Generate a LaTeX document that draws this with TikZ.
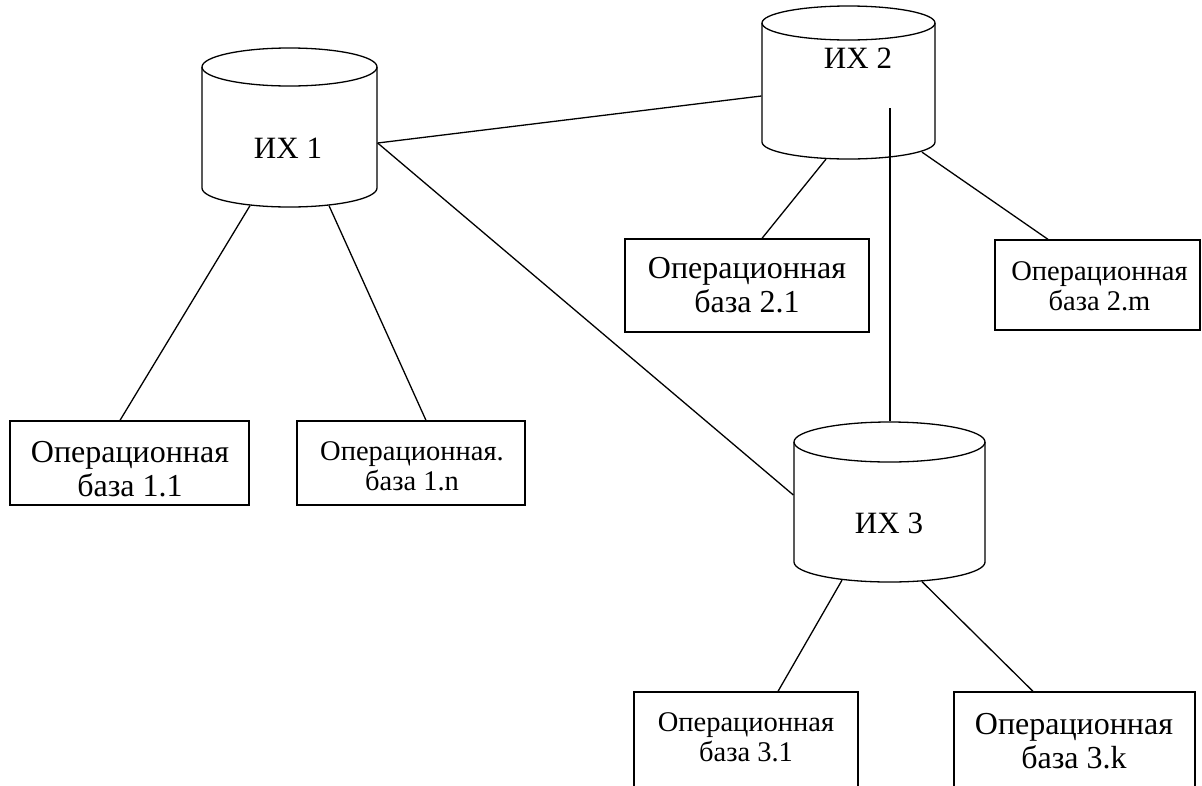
\documentclass[tikz,border=0pt]{standalone}
\usepackage{fontspec}
\setmainfont{Liberation Serif}

% Vertical database cylinder: #1 name, #2 left x, #3 right x,
% #4 y of the top ellipse centre, #5 y where the sides end, #6 ellipse half-height
\newcommand{\dbcyl}[6]{%
  \pgfmathsetmacro\cylcx{(#2+#3)/2}%
  \pgfmathsetmacro\cylrx{(#3-#2)/2}%
  \pgfmathsetmacro\cylcy{(#4+#5)/2}%
  \pgfmathsetmacro\cylh{#5-#4}%
  \node[inner sep=0pt, minimum width={2*\cylrx pt}, minimum height={\cylh pt}] (#1) at (\cylcx,\cylcy) {};
  \draw (#2,#4) -- (#2,#5) arc[start angle=180, end angle=0, x radius=\cylrx, y radius=#6] -- (#3,#4);
  \draw (\cylcx,#4) ellipse[x radius=\cylrx, y radius=#6];
}

\begin{document}
\begin{tikzpicture}[x=1pt, y=-1pt, line width=1.3pt,
  opbox/.style={draw, rectangle, inner sep=0pt, line width=1.3pt},
  bigtext/.style={align=center, inner sep=0pt, font=\fontsize{32}{34}\selectfont},
  smalltext/.style={align=center, inner sep=0pt, font=\fontsize{28.5}{30}\selectfont},
  cyltext/.style={inner sep=0pt, font=\fontsize{31}{33}\selectfont},
  link/.style={line width=1.3pt}]
\useasboundingbox (0,0) rectangle (1202,785);

% storages
\dbcyl{ix1}{202}{377}{67}{188}{19}
\dbcyl{ix2}{762}{935}{23}{142}{17}
\dbcyl{ix3}{794}{985}{442}{562}{20}
\node[cyltext] (tx1) at (288,148) {ИХ 1};
\node[cyltext] (tx2) at (858,58) {ИХ 2};
\node[cyltext] (tx3) at (889,523) {ИХ 3};

% operational databases (frames)
\node[opbox, minimum width=239pt, minimum height=84pt] (b11) at (129.5,463) {};
\node[opbox, minimum width=228pt, minimum height=84pt] (b1n) at (411,463) {};
\node[opbox, minimum width=244pt, minimum height=93pt] (b21) at (747,285.5) {};
\node[opbox, minimum width=205pt, minimum height=90pt] (b2m) at (1097.5,285) {};
\node[opbox, minimum width=224pt, minimum height=110pt] (b31) at (746,747) {};
\node[opbox, minimum width=241pt, minimum height=110pt] (b3k) at (1074.5,747) {};

% frame captions
\node[bigtext] (l11) at (130,469.5) {Операционная\\база 1.1};
\node[smalltext] (l1n) at (412,466) {Операционная.\\база 1.n};
\node[bigtext] (l21) at (747,285) {Операционная\\база 2.1};
\node[smalltext] (l2m) at (1099.5,286) {Операционная\\база 2.m};
\node[smalltext] (l31) at (746,737) {Операционная\\база 3.1};
\node[bigtext] (l3k) at (1074,741.5) {Операционная\\база 3.k};

% links between storages
\draw[link] ([shift={(0,15.5)}]ix1.east) -- ([shift={(0,13.5)}]ix2.west);
\draw[link] ([shift={(0,15.5)}]ix1.east) -- ([shift={(0,-7)}]ix3.west);
\draw[link] ([shift={(41.5,25.5)}]ix2.center) -- ([shift={(0.5,-20)}]ix3.north);

% links from storages to their operational databases
\draw[link] ([shift={(-39.5,17)}]ix1.south) -- ([shift={(-9.5,0)}]b11.north);
\draw[link] ([shift={(39.5,17)}]ix1.south) -- ([shift={(15,0)}]b1n.north);
\draw[link] ([shift={(-22.5,16.5)}]ix2.south) -- ([shift={(15,0)}]b21.north);
\draw[link] ([shift={(73.5,9.5)}]ix2.south) -- ([shift={(-49.5,0)}]b2m.north);
\draw[link] ([shift={(-47.5,17.5)}]ix3.south) -- ([shift={(32,0)}]b31.north);
\draw[link] ([shift={(32.5,19)}]ix3.south) -- ([shift={(-41.5,0)}]b3k.north);
\end{tikzpicture}
\end{document}
